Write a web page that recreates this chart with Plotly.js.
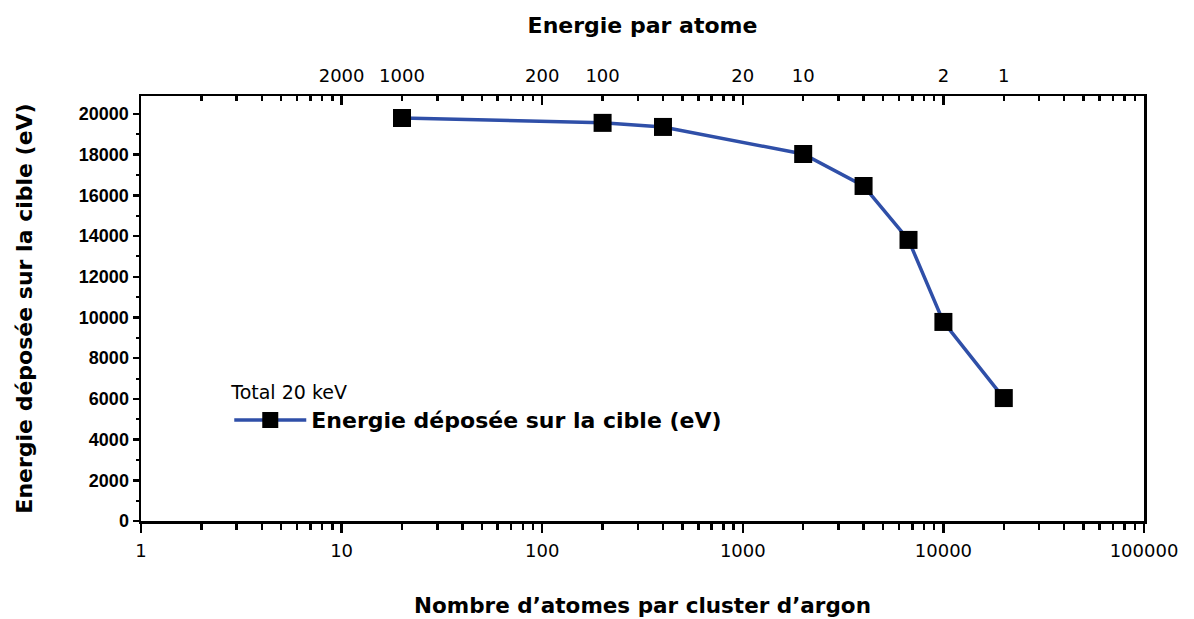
<!DOCTYPE html>
<html><head><meta charset="utf-8">
<script src="https://cdn.plot.ly/plotly-3.0.1.min.js"></script>
<style>body{margin:0;background:#fff}#c{width:1194px;height:619px}</style>
</head><body><div id="c"></div>
<script>
// Data
const nAtomes = [20, 200, 400, 2000, 4000, 6700, 10000, 20000];
const energieDeposee = [19800, 19560, 19360, 18030, 16460, 13810, 9780, 6040];
// top axis: energy per atom labels (positions = total energy / energy per atom)
const totalEnergie = 20000;
const energieParAtome = [2000, 1000, 200, 100, 20, 10, 2, 1];
const topTickVals = energieParAtome.map(e => totalEnergie / e);
const topTickText = energieParAtome.map(String);
const bottomTickVals = [1, 10, 100, 1000, 10000, 100000];
const bottomTickText = ['1', '10', '100', '1000', '10000', '100000'];

const lineCol = '#2F4FA8';
const arial = 'Liberation Sans';
const dv = 'DejaVu Sans';
const ghost = (xa) => ({
  x: [nAtomes[0]], y: [energieDeposee[0]], type: 'scatter', mode: 'markers',
  marker: {opacity: 0}, showlegend: false, hoverinfo: 'skip', xaxis: xa, yaxis: 'y'
});
const traces = [{
  x: nAtomes, y: energieDeposee, type: 'scatter', mode: 'lines+markers',
  name: '<b>Energie déposée sur la cible (eV)</b>',
  line: {color: lineCol, width: 3.5},
  marker: {symbol: 'square', size: 18, color: '#000'},
  xaxis: 'x', yaxis: 'y'
}, ghost('x2'), ghost('x3')];

const xr = [0, 5];
const layout = {
  width: 1194, height: 619,
  margin: {l: 141, r: 50, t: 96, b: 98},
  paper_bgcolor: '#fff', plot_bgcolor: '#fff',
  font: {family: arial, color: '#000'},
  showlegend: true,
  legend: {
    x: 0.088, y: 0.345, xanchor: 'left', yanchor: 'top',
    bgcolor: 'rgba(0,0,0,0)', itemwidth: 72,
    title: {text: 'Total 20 keV', font: {family: dv, size: 19}},
    font: {family: dv, size: 22}
  },
  xaxis: {
    type: 'log', range: xr, showgrid: false, zeroline: false,
    showline: true, linecolor: '#000', linewidth: 2.5, mirror: true,
    ticks: 'outside', ticklen: 9, tickwidth: 2.5, tickcolor: '#000',
    tickvals: bottomTickVals, ticktext: bottomTickText, ticklabelstandoff: 3,
    tickfont: {family: dv, size: 18},
    minor: {ticks: 'outside', ticklen: 6, tickwidth: 2.5, tickcolor: '#000', dtick: 'D1', showgrid: false},
    title: {text: '<b>Nombre d’atomes par cluster d’argon</b>', font: {family: dv, size: 21.5}, standoff: 38}
  },
  xaxis2: {
    type: 'log', range: xr, overlaying: 'x', side: 'top', anchor: 'y',
    showgrid: false, zeroline: false, showline: false, ticks: '',
    tickvals: topTickVals, ticktext: topTickText, ticklabelstandoff: 9,
    tickfont: {family: dv, size: 18},
    title: {text: '<b>Energie par atome</b>', font: {family: dv, size: 22}, standoff: 25}
  },
  xaxis3: {
    type: 'log', range: xr, overlaying: 'x', side: 'top', anchor: 'y',
    showgrid: false, zeroline: false, showline: false, showticklabels: false,
    ticks: 'inside', ticklen: 9, tickwidth: 2.5, tickcolor: '#000',
    tickvals: bottomTickVals,
    minor: {ticks: 'inside', ticklen: 5, tickwidth: 2.5, tickcolor: '#000', dtick: 'D1', showgrid: false}
  },
  yaxis: {
    range: [0, 20880], showgrid: false, zeroline: false,
    showline: true, linecolor: '#000', linewidth: 2.5, mirror: true,
    ticks: 'outside', ticklen: 6, tickwidth: 2.5, tickcolor: '#000',
    dtick: 2000, tick0: 0, tickformat: 'd',
    tickfont: {family: arial, size: 18, weight: 'bold'},
    minor: {ticks: 'outside', ticklen: 3, tickwidth: 2, tickcolor: '#000', dtick: 1000, showgrid: false},
    title: {text: '<b>Energie déposée sur la cible (eV)</b>', font: {family: dv, size: 22}, standoff: 40}
  }
};
Plotly.newPlot('c', traces, layout, {staticPlot: true});
</script></body></html>
